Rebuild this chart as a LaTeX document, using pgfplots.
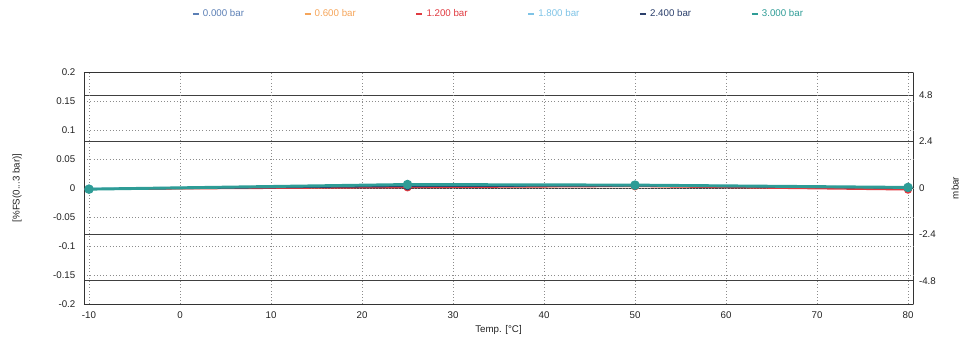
\documentclass[border=0pt]{standalone}
\usepackage{fontspec}
\setmainfont{Liberation Sans}
\usepackage{pgfplots}
\pgfplotsset{compat=1.18}
\definecolor{cA}{HTML}{5B7FB5}
\definecolor{cB}{HTML}{F5A55A}
\definecolor{cC}{HTML}{E03A40}
\definecolor{cD}{HTML}{7EC3E6}
\definecolor{cE}{HTML}{2B3F6B}
\definecolor{cF}{HTML}{2E9C96}
\definecolor{txt}{HTML}{222222}
\begin{document}
\begin{tikzpicture}[font=\fontsize{7.3}{9}\selectfont, text=txt]
\useasboundingbox (-63pt,-27.75pt) rectangle (663pt,228pt);
% right axis (mbar)
\begin{axis}[
  scale only axis, width=621.75pt, height=174pt,
  xmin=-10.55, xmax=80.55, ymin=-6, ymax=6,
  axis y line*=right, axis x line=none,
  ytick={-4.8,-2.4,0,2.4,4.8},
  yticklabels={-4.8,-2.4,0,2.4,4.8},
  ymajorgrids, major grid style={solid, black!75, line width=0.6pt},
  major tick length=0pt,
  yticklabel style={anchor=west, xshift=1pt},
  axis line style={black!80, line width=0.6pt},
  ylabel={mbar},
  ylabel style={at={(axis description cs:1.0507,0.5)}, anchor=center},
  /pgf/number format/assume math mode=true,
]
\addplot[draw=none] coordinates {(0,0)};
\end{axis}
% main axis
\begin{axis}[
  scale only axis, width=621.75pt, height=174pt,
  xmin=-10.55, xmax=80.55, ymin=-0.2, ymax=0.2,
  axis y line*=left, axis x line*=bottom,
  xtick={-10,0,10,20,30,40,50,60,70,80},
  xticklabels={-10,0,10,20,30,40,50,60,70,80},
  ytick={-0.2,-0.15,-0.1,-0.05,0,0.05,0.1,0.15,0.2},
  yticklabels={-0.2,-0.15,-0.1,-0.05,0,0.05,0.1,0.15,0.2},
  grid=major, major grid style={dotted, black!45, line width=0.5pt},
  major tick length=0pt,
  axis line style={black!80, line width=0.6pt},
  xticklabel style={yshift=-2pt},
  yticklabel style={xshift=-3pt},
  xlabel={Temp. [°C]},
  xlabel style={at={(axis description cs:0.5,-0.112)}, anchor=center},
  ylabel={[\%FS(0...3 bar)]},
  ylabel style={at={(axis description cs:-0.0808,0.5)}, anchor=center},
  /pgf/number format/assume math mode=true,
  legend columns=6,
  legend style={at={(axis description cs:0.5,1.25)}, anchor=center, draw=none, fill=none,
    /tikz/every even column/.append style={column sep=42.3pt}},
  legend image code/.code={\draw[line width=2.2pt] (0pt,0pt) -- (4.5pt,0pt);},
  every axis plot/.append style={mark=*, mark size=2.4pt},
]
\draw[black!80, line width=0.6pt] (rel axis cs:0,1) -- (rel axis cs:1,1);
\addplot[cA, line width=1.2pt, mark options={fill=cA}] coordinates {(-10,-0.002) (25,0.004) (50,0.004) (80,0.000)};
\addplot[cB, line width=1.2pt, mark options={fill=cB}] coordinates {(-10,-0.002) (25,0.002) (50,0.003) (80,-0.001)};
\addplot[cC, line width=1.2pt, mark options={fill=cC}] coordinates {(-10,-0.002) (25,0.001) (50,0.003) (80,-0.003)};
\addplot[cD, line width=1.2pt, mark options={fill=cD}] coordinates {(-10,-0.001) (25,0.005) (50,0.005) (80,0.001)};
\addplot[cE, line width=1.2pt, mark options={fill=cE}] coordinates {(-10,-0.002) (25,0.003) (50,0.004) (80,0.000)};
\addplot[cF, line width=2.2pt, mark options={fill=cF}] coordinates {(-10,-0.002) (25,0.006) (50,0.005) (80,0.001)};
\legend{\textcolor{cA}{0.000 bar},\textcolor{cB}{0.600 bar},\textcolor{cC}{1.200 bar},\textcolor{cD}{1.800 bar},\textcolor{cE}{2.400 bar},\textcolor{cF}{3.000 bar}}
\end{axis}
\end{tikzpicture}
\end{document}
